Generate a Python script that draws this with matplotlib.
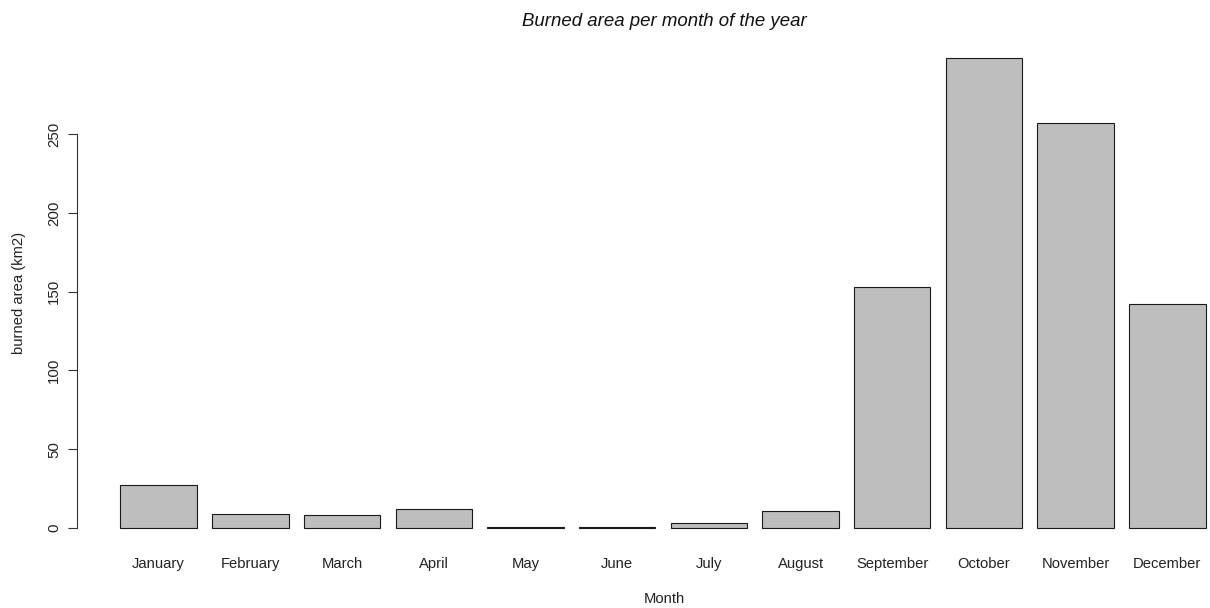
import matplotlib
matplotlib.use("Agg")
import matplotlib.pyplot as plt
import numpy as np

months = ["January", "February", "March", "April", "May", "June", "July",
          "August", "September", "October", "November", "December"]
burned_km2 = [27.5, 9.1, 8.4, 12.0, 0.4, 0.9, 3.1, 10.8, 152.9, 298.2, 257.2, 142.3]
y_ticks = [0, 50, 100, 150, 200, 250]

plt.rcParams['font.family'] = ['Liberation Sans', 'DejaVu Sans']

W, H = 1210, 608
fig = plt.figure(figsize=(W / 100, H / 100), dpi=100)

# R barplot geometry: width 1, space 0.2
n = len(months)
centers = 0.7 + 1.2 * np.arange(n)
xmin, xmax = 0.2, 0.2 + 1.2 * n - 0.2
xr = xmax - xmin
xlim = (xmin - 0.04 * xr, xmax + 0.04 * xr)
ymax = max(burned_km2)
ylim = (-0.04 * ymax, ymax * 1.04)

left_px, right_px = 77, 1249
top_px, bottom_px = 39.3, 546.8
ax = fig.add_axes([left_px / W, 1 - bottom_px / H,
                   (right_px - left_px) / W, (bottom_px - top_px) / H])

ax.bar(centers, burned_km2, width=1.0, color="#BEBEBE",
       edgecolor="#1a1a1a", linewidth=0.8)
ax.set_xlim(*xlim)
ax.set_ylim(*ylim)

for s in ["top", "right", "bottom"]:
    ax.spines[s].set_visible(False)
ax.spines["left"].set_bounds(0, 250)
ax.spines["left"].set_linewidth(0.8)
ax.spines["left"].set_color("#333333")

ax.set_yticks(y_ticks)
ax.set_yticklabels([str(v) for v in y_ticks], rotation=90, va="center")
ax.tick_params(axis="y", length=6.5, width=0.8, color="#333333", pad=5,
               labelsize=10.8, labelcolor="#222222")
ax.set_xticks(centers)
ax.set_xticklabels(months)
ax.tick_params(axis="x", length=0, pad=7.5, labelsize=10.6, labelcolor="#222222")

fig.text(664 / W, 1 - 21 / H, "Burned area per month of the year",
         ha="center", va="center", fontsize=13.4, style="italic", color="#111111")
fig.text(664 / W, 1 - 599 / H, "Month", ha="center", va="center",
         fontsize=10.6, color="#222222")
fig.text(19 / W, 1 - 293 / H, "burned area (km2)", ha="center", va="center",
         rotation=90, fontsize=10.6, color="#222222")

fig.savefig("out.png", dpi=100)
